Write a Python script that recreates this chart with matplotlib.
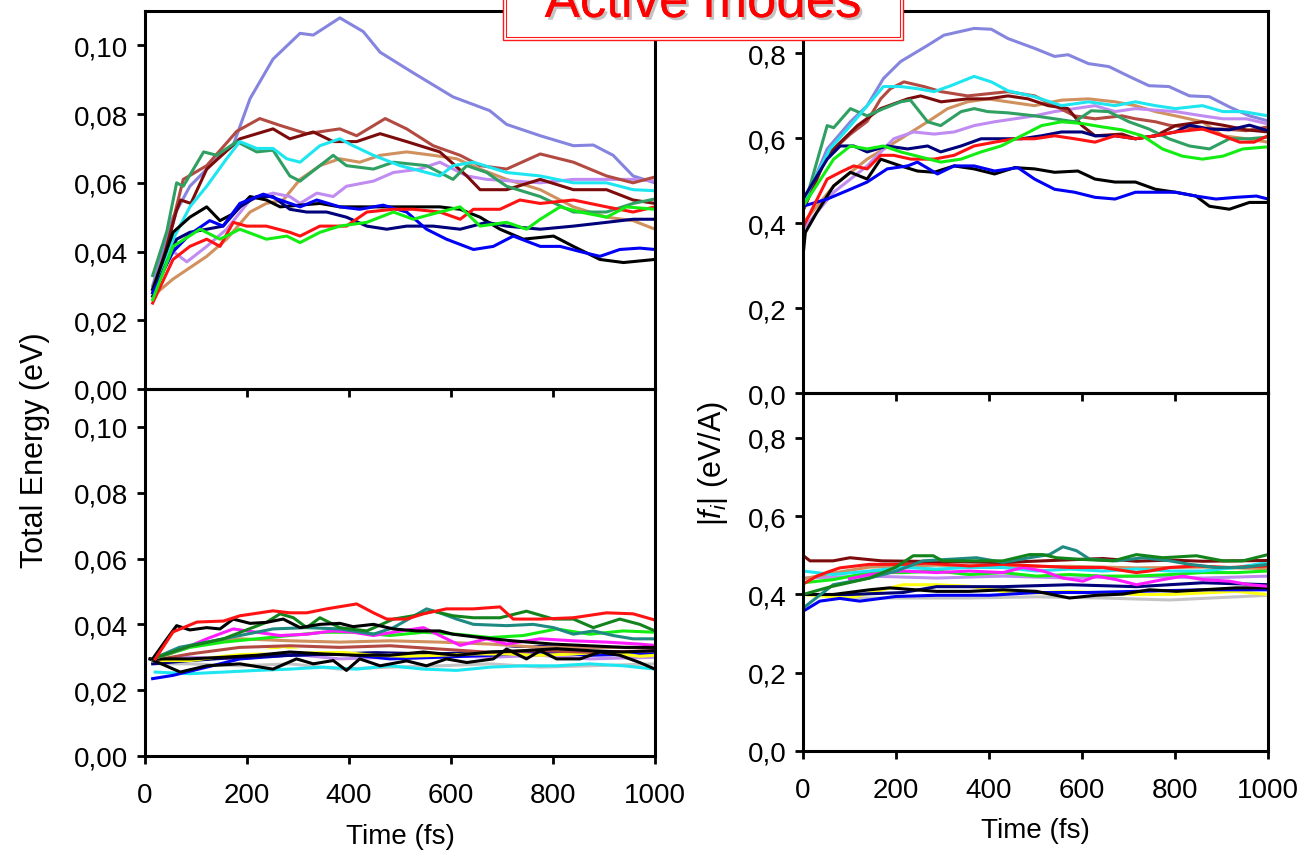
import matplotlib
matplotlib.use("Agg")
import matplotlib.pyplot as plt
import matplotlib.patheffects as pe
from matplotlib.patches import Rectangle
from matplotlib.ticker import FuncFormatter

plt.rcParams['font.family'] = ['Liberation Sans', 'DejaVu Sans']
plt.rcParams['mathtext.fontset'] = 'custom'
plt.rcParams['mathtext.rm'] = 'Liberation Sans'
plt.rcParams['mathtext.it'] = 'Liberation Sans:italic'

# (time fs, value)
# --- top left: total energy, active modes
tl_slateblue = [(15, .030), (55, .050), (88, .059), (141, .067), (173, .071), (206, .0845), (251, .096), (304, .1035), (330, .103), (356, .1055), (382, .108), (428, .104), (461, .098), (526, .092), (604, .085), (676, .081), (709, .077), (775, .0737), (840, .0708), (879, .071), (918, .068), (957, .062), (1000, .060)]
tl_brown = [(15, .029), (40, .040), (75, .061), (121, .065), (180, .075), (225, .0787), (265, .0767), (317, .0743), (382, .0757), (415, .0737), (471, .0787), (513, .0757), (565, .0708), (618, .068), (657, .065), (709, .064), (775, .0684), (840, .066), (905, .062), (957, .060), (1000, .0617)]
tl_maroon = [(15, .028), (40, .040), (62, .052), (70, .055), (90, .054), (121, .064), (186, .0728), (251, .0757), (284, .0728), (330, .0748), (369, .072), (415, .072), (461, .0743), (513, .072), (578, .069), (631, .062), (657, .058), (709, .058), (775, .061), (840, .058), (905, .058), (957, .055), (1000, .054)]
tl_seagreen = [(15, .033), (43, .046), (62, .060), (75, .059), (115, .069), (141, .068), (180, .072), (219, .069), (251, .0695), (284, .062), (304, .0605), (343, .065), (369, .068), (395, .065), (448, .064), (487, .066), (552, .065), (604, .061), (631, .065), (670, .063), (709, .059), (775, .056), (840, .0515), (905, .0515), (957, .054), (1000, .0553)]
tl_cyan = [(15, .029), (55, .0436), (88, .053), (121, .059), (160, .067), (186, .072), (219, .070), (251, .070), (278, .067), (304, .066), (343, .0708), (382, .0728), (408, .0708), (448, .068), (500, .065), (552, .063), (578, .062), (604, .065), (644, .066), (709, .063), (775, .062), (840, .060), (905, .060), (957, .058), (1000, .0577)]
tl_tan = [(15, .027), (55, .032), (121, .0386), (160, .0436), (206, .0515), (238, .054), (271, .055), (304, .061), (343, .065), (382, .067), (421, .066), (461, .068), (513, .069), (565, .068), (611, .067), (657, .064), (709, .061), (775, .058), (840, .053), (905, .050), (957, .049), (1000, .0465)]
tl_lavender = [(15, .029), (55, .040), (82, .037), (121, .0415), (160, .0465), (206, .055), (251, .057), (284, .056), (304, .054), (337, .057), (369, .056), (395, .059), (448, .0605), (487, .063), (539, .064), (578, .066), (631, .062), (670, .061), (775, .060), (840, .061), (957, .061), (1000, .0605)]
tl_black = [(15, .029), (55, .0456), (88, .050), (121, .053), (147, .049), (173, .051), (206, .056), (238, .055), (265, .053), (343, .054), (382, .053), (448, .053), (513, .053), (578, .053), (618, .0523), (657, .050), (696, .0465), (742, .0436), (801, .0445), (840, .0415), (892, .0377), (938, .0368), (1000, .0377)]
tl_navy = [(15, .027), (62, .0436), (88, .0456), (121, .0465), (153, .0474), (186, .053), (219, .056), (251, .056), (284, .0523), (317, .0515), (356, .0515), (395, .050), (435, .0474), (474, .0465), (513, .0474), (565, .0474), (618, .0465), (670, .0485), (709, .0474), (775, .0465), (840, .0474), (905, .0485), (957, .0494), (1000, .0494)]
tl_blue = [(15, .028), (55, .040), (88, .045), (127, .049), (153, .0474), (186, .054), (232, .0567), (265, .055), (304, .053), (337, .055), (382, .053), (421, .0523), (467, .0535), (513, .0515), (552, .0465), (591, .0436), (644, .0406), (683, .0415), (722, .0445), (775, .0415), (814, .0415), (853, .040), (892, .0386), (931, .0406), (970, .041), (1000, .0406)]
tl_red = [(15, .025), (55, .0377), (88, .0415), (121, .0436), (147, .0415), (173, .0485), (199, .0474), (238, .0474), (284, .0456), (304, .0445), (343, .0474), (395, .0474), (435, .0515), (487, .0523), (526, .0523), (578, .0515), (618, .0494), (644, .0523), (696, .0523), (735, .055), (775, .054), (840, .055), (905, .053), (957, .0515), (1000, .053)]
tl_lime = [(15, .026), (55, .0415), (108, .0465), (147, .0436), (186, .0465), (238, .0436), (278, .0445), (304, .0426), (343, .0456), (382, .0474), (435, .0485), (487, .0515), (526, .0494), (578, .0515), (618, .053), (657, .0474), (709, .0485), (748, .0465), (775, .0494), (814, .053), (853, .0515), (905, .050), (944, .053), (1000, .0523)]

# --- top right: |f_i|, active modes
tr_slateblue = [(0, .44), (52, .575), (102, .639), (138, .677), (173, .741), (210, .781), (268, .819), (303, .843), (368, .859), (405, .857), (441, .835), (498, .812), (541, .793), (570, .797), (614, .776), (658, .769), (701, .746), (744, .724), (787, .722), (831, .700), (874, .698), (917, .674), (960, .653), (1000, .641)]
tr_cyan = [(0, .45), (58, .575), (102, .630), (173, .722), (210, .722), (246, .717), (282, .710), (318, .724), (368, .746), (405, .733), (441, .712), (498, .698), (556, .677), (614, .686), (671, .677), (715, .686), (758, .677), (801, .670), (859, .677), (903, .663), (946, .663), (1000, .653)]
tr_brown = [(0, .43), (52, .56), (102, .61), (138, .64), (167, .693), (188, .717), (217, .733), (260, .722), (297, .710), (354, .700), (441, .710), (498, .700), (541, .677), (584, .653), (628, .646), (686, .653), (715, .646), (758, .639), (787, .631), (859, .622), (903, .622), (953, .618), (1000, .627)]
tr_maroon = [(0, .43), (52, .56), (117, .630), (167, .670), (225, .693), (253, .700), (297, .686), (354, .693), (397, .693), (441, .700), (484, .693), (527, .677), (570, .670), (600, .630), (628, .606), (686, .610), (715, .599), (758, .606), (801, .630), (859, .639), (903, .631), (953, .620), (1000, .615)]
tr_seagreen = [(0, .43), (52, .630), (66, .625), (102, .670), (138, .653), (173, .670), (210, .686), (231, .690), (268, .639), (296, .630), (340, .663), (368, .670), (397, .663), (441, .660), (498, .653), (541, .646), (584, .639), (620, .665), (657, .663), (701, .639), (744, .622), (787, .599), (831, .582), (874, .575), (917, .599), (960, .599), (1000, .603)]
tr_tan = [(0, .40), (66, .488), (138, .551), (210, .599), (268, .639), (311, .670), (354, .686), (397, .693), (441, .686), (498, .677), (556, .690), (614, .693), (671, .686), (715, .677), (758, .663), (801, .653), (859, .639), (903, .606), (953, .599), (1000, .591)]
tr_lavender = [(0, .386), (66, .473), (138, .535), (195, .599), (238, .615), (282, .610), (325, .615), (368, .630), (412, .639), (455, .646), (498, .653), (541, .663), (584, .670), (628, .677), (671, .663), (715, .670), (801, .663), (859, .653), (903, .646), (953, .646), (1000, .634)]
tr_navy = [(0, .457), (52, .551), (80, .582), (109, .582), (138, .568), (181, .582), (225, .575), (268, .582), (296, .568), (340, .582), (383, .599), (470, .599), (513, .606), (556, .615), (600, .615), (628, .606), (671, .606), (715, .599), (758, .606), (801, .615), (831, .631), (874, .622), (917, .620), (960, .631), (1000, .618)]
tr_lime = [(0, .44), (66, .551), (102, .582), (138, .575), (173, .582), (210, .568), (246, .558), (296, .544), (340, .551), (383, .568), (426, .582), (470, .606), (513, .630), (556, .639), (600, .635), (643, .627), (686, .620), (730, .606), (773, .575), (816, .558), (859, .551), (903, .558), (946, .575), (1000, .580)]
tr_red = [(0, .39), (52, .504), (80, .520), (109, .535), (138, .528), (167, .560), (195, .560), (232, .551), (282, .551), (325, .560), (368, .582), (412, .591), (455, .599), (498, .599), (541, .606), (584, .599), (628, .591), (671, .606), (715, .599), (758, .606), (801, .615), (859, .622), (903, .606), (939, .591), (970, .591), (1000, .606)]
tr_black = [(0, .322), (5, .378), (30, .426), (66, .488), (102, .520), (138, .504), (167, .551), (210, .535), (246, .523), (282, .520), (325, .535), (368, .528), (412, .516), (455, .531), (498, .528), (541, .520), (591, .523), (628, .504), (671, .497), (715, .497), (758, .480), (801, .473), (845, .464), (874, .440), (917, .433), (960, .449), (1000, .449)]
tr_blue = [(0, .44), (52, .457), (102, .480), (138, .497), (181, .528), (225, .535), (246, .544), (289, .516), (325, .535), (368, .535), (412, .523), (462, .531), (498, .504), (541, .480), (584, .473), (628, .461), (671, .457), (715, .473), (801, .473), (845, .464), (888, .457), (931, .461), (975, .464), (1000, .457)]

# --- bottom left: total energy, other modes
bl_grey = [(20, .028), (88, .028), (186, .0274), (284, .028), (382, .0264), (480, .027), (578, .0274), (677, .028), (775, .027), (872, .0274), (1000, .028)]
bl_cyan = [(20, .0255), (88, .025), (154, .0255), (219, .026), (284, .0264), (350, .027), (415, .0264), (480, .0274), (546, .0264), (611, .026), (677, .027), (742, .0274), (807, .0274), (872, .028), (938, .0274), (1000, .0264)]
bl_lavender = [(15, .029), (88, .030), (186, .0295), (284, .031), (382, .0295), (480, .030), (578, .0306), (677, .030), (775, .0306), (872, .0295), (1000, .030)]
bl_blue = [(15, .0235), (55, .0245), (121, .027), (186, .0295), (284, .0306), (382, .0311), (480, .0295), (578, .030), (677, .0306), (775, .0316), (872, .0306), (1000, .0311)]
bl_navy = [(15, .028), (88, .029), (186, .030), (284, .0306), (382, .031), (480, .0316), (578, .031), (677, .032), (775, .0333), (872, .0326), (1000, .033)]
bl_yellow = [(15, .029), (88, .029), (154, .0303), (219, .0313), (271, .0333), (317, .0316), (382, .0316), (448, .0306), (513, .0303), (578, .0306), (644, .031), (709, .031), (775, .0306), (840, .031), (905, .0316), (970, .0303), (1000, .0306)]
bl_white = [(15, .031), (120, .0315), (250, .032), (400, .0325), (550, .032), (700, .0325), (850, .032), (1000, .0325)]
bl_brown = [(15, .029), (88, .031), (186, .033), (284, .0335), (382, .033), (480, .0335), (578, .0325), (677, .0315), (775, .032), (872, .0315), (1000, .032)]
bl_tan = [(15, .029), (88, .0334), (186, .0356), (284, .035), (382, .0346), (480, .035), (578, .0346), (677, .034), (775, .033), (872, .033), (1000, .033)]
bl_black2 = [(10, .0295), (88, .0295), (154, .030), (219, .0306), (284, .0316), (350, .031), (415, .0306), (480, .0306), (546, .0316), (611, .0306), (677, .0316), (742, .032), (807, .0326), (872, .032), (938, .0316), (1000, .032)]
bl_black3 = [(10, .0295), (69, .0255), (121, .0274), (186, .028), (251, .0264), (297, .0295), (330, .028), (369, .029), (395, .026), (421, .0295), (461, .0274), (513, .0289), (552, .0274), (591, .0295), (631, .0284), (683, .0295), (709, .0325), (748, .0295), (775, .032), (807, .0295), (853, .0295), (892, .0316), (931, .0306), (970, .0284), (1000, .0264)]
bl_lime = [(15, .0295), (88, .033), (154, .0346), (219, .0356), (284, .0366), (350, .0376), (415, .0376), (480, .0366), (546, .0376), (611, .037), (677, .036), (742, .0366), (807, .0386), (872, .037), (938, .038), (1000, .0376)]
bl_magenta = [(15, .0295), (88, .0334), (121, .0356), (173, .0386), (219, .0376), (265, .0366), (317, .037), (369, .038), (408, .0376), (448, .0366), (487, .0376), (546, .039), (578, .0366), (618, .0336), (670, .0356), (709, .034), (775, .0356), (840, .035), (905, .0346), (970, .034), (1000, .0336)]
bl_teal = [(15, .0295), (67, .033), (121, .0346), (186, .0366), (251, .0386), (317, .039), (382, .0386), (448, .037), (487, .039), (552, .0447), (578, .0435), (611, .0416), (644, .040), (709, .0396), (761, .040), (801, .039), (840, .037), (879, .038), (918, .0366), (957, .0356), (1000, .0356)]
bl_green = [(15, .0295), (88, .0334), (154, .0356), (199, .0383), (238, .0406), (265, .0432), (291, .042), (317, .039), (343, .042), (382, .039), (435, .038), (487, .0416), (526, .0426), (565, .044), (604, .0426), (644, .042), (696, .042), (748, .044), (801, .0416), (840, .0416), (879, .039), (931, .0416), (970, .040), (1000, .038)]
bl_black1 = [(15, .0295), (43, .0356), (62, .0396), (88, .0383), (121, .039), (147, .0386), (173, .0416), (206, .0403), (238, .0406), (271, .0416), (304, .039), (343, .040), (382, .0403), (408, .0393), (448, .040), (487, .0386), (533, .038), (578, .038), (604, .037), (657, .036), (720, .035), (800, .034), (870, .0335), (940, .033), (1000, .033)]
bl_red = [(20, .0295), (55, .0377), (102, .0407), (154, .041), (186, .0426), (251, .0441), (284, .0435), (317, .0435), (356, .0447), (415, .0462), (448, .0435), (474, .0416), (513, .0416), (546, .0432), (591, .0447), (644, .0447), (696, .0453), (722, .0416), (775, .0416), (840, .042), (905, .0435), (957, .0432), (1000, .0413)]

# --- bottom right: |f_i|, other modes
br_grey = [(65, .391), (215, .391), (358, .391), (502, .394), (645, .391), (789, .386), (932, .394), (1000, .398)]
br_yellow = [(0, .40), (100, .391), (215, .425), (287, .425), (358, .421), (430, .408), (502, .404), (573, .408), (645, .404), (717, .400), (789, .400), (860, .404), (932, .408), (1000, .400)]
br_blue = [(0, .357), (36, .383), (79, .39), (122, .383), (200, .395), (287, .398), (401, .398), (502, .405), (609, .405), (717, .408), (860, .412), (1000, .412)]
br_navy = [(0, .40), (100, .40), (215, .405), (287, .42), (430, .42), (573, .425), (717, .42), (860, .43), (1000, .425)]
br_black = [(0, .40), (65, .40), (143, .412), (186, .417), (287, .408), (358, .408), (430, .412), (502, .408), (573, .391), (631, .398), (688, .401), (745, .412), (803, .408), (860, .412), (932, .417), (1000, .417)]
br_white = [(0, .445), (143, .44), (287, .445), (430, .437), (573, .442), (717, .436), (860, .44), (1000, .438)]
br_lavender = [(0, .442), (143, .447), (287, .442), (430, .447), (573, .442), (717, .447), (860, .442), (1000, .447)]
br_tan = [(0, .44), (65, .455), (143, .47), (287, .475), (430, .47), (573, .472), (717, .468), (860, .47), (1000, .466)]
br_lime = [(0, .43), (65, .438), (143, .456), (215, .456), (287, .460), (358, .451), (430, .456), (502, .447), (573, .451), (645, .447), (717, .447), (789, .451), (860, .456), (932, .456), (1000, .460)]
br_cyan = [(0, .46), (65, .451), (143, .460), (215, .469), (287, .465), (358, .469), (430, .469), (502, .460), (573, .465), (645, .460), (717, .465), (789, .460), (860, .460), (932, .469), (1000, .482)]
br_magenta = [(100, .44), (143, .451), (215, .460), (287, .456), (358, .460), (430, .456), (473, .469), (516, .460), (559, .442), (602, .434), (631, .447), (674, .438), (717, .425), (774, .438), (817, .447), (860, .438), (917, .434), (960, .425), (1000, .421)]
br_red = [(5, .43), (30, .447), (50, .456), (79, .468), (143, .477), (215, .477), (265, .480), (358, .473), (430, .477), (502, .473), (573, .469), (645, .469), (717, .456), (745, .46), (789, .469), (846, .473), (917, .469), (1000, .473)]
br_maroon = [(0, .50), (15, .486), (65, .486), (101, .494), (169, .486), (300, .484), (430, .482), (645, .492), (717, .485), (789, .488), (860, .485), (1000, .487)]
br_teal = [(0, .365), (65, .425), (143, .442), (201, .460), (258, .486), (315, .490), (373, .494), (430, .482), (487, .494), (530, .502), (559, .522), (588, .512), (617, .490), (674, .486), (731, .494), (789, .486), (832, .477), (889, .469), (946, .469), (1000, .477)]
br_green = [(0, .40), (60, .42), (143, .442), (200, .47), (237, .499), (280, .499), (300, .486), (358, .486), (430, .486), (487, .502), (516, .502), (545, .494), (595, .490), (667, .486), (717, .502), (774, .494), (846, .499), (903, .486), (946, .486), (1000, .502)]

time_ticks = [0, 200, 400, 600, 800, 1000]
energy_ticks = [0.00, 0.02, 0.04, 0.06, 0.08, 0.10]
force_ticks = [0.0, 0.2, 0.4, 0.6, 0.8]

c = dict(slateblue='#8585e0', brown='#b24a42', maroon='#7c0c0c', seagreen='#2fa062',
         cyan='#1ee6f0', tan='#d0915e', lavender='#c08cf2', black='#000000',
         navy='#00007a', blue='#0000f5', red='#ff1212', lime='#12ee12',
         grey='#c4c4c4', yellow='#ffff10', white='#ffffff', magenta='#ff1cff',
         teal='#1e8a82', green='#13841c')

tl_lines = [(tl_slateblue, 'slateblue'), (tl_tan, 'tan'), (tl_lavender, 'lavender'), (tl_brown, 'brown'),
            (tl_maroon, 'maroon'), (tl_seagreen, 'seagreen'), (tl_cyan, 'cyan'), (tl_black, 'black'),
            (tl_navy, 'navy'), (tl_blue, 'blue'), (tl_red, 'red'), (tl_lime, 'lime')]
tr_lines = [(tr_slateblue, 'slateblue'), (tr_tan, 'tan'), (tr_lavender, 'lavender'), (tr_brown, 'brown'),
            (tr_maroon, 'maroon'), (tr_seagreen, 'seagreen'), (tr_cyan, 'cyan'), (tr_black, 'black'),
            (tr_navy, 'navy'), (tr_blue, 'blue'), (tr_red, 'red'), (tr_lime, 'lime')]
bl_lines = [(bl_grey, 'grey'), (bl_cyan, 'cyan'), (bl_lavender, 'lavender'), (bl_blue, 'blue'),
            (bl_navy, 'navy'), (bl_yellow, 'yellow'), (bl_white, 'white'), (bl_brown, 'brown'),
            (bl_tan, 'tan'), (bl_black2, 'black'), (bl_black3, 'black'), (bl_lime, 'lime'),
            (bl_magenta, 'magenta'), (bl_teal, 'teal'), (bl_green, 'green'), (bl_black1, 'black'),
            (bl_red, 'red')]
br_lines = [(br_grey, 'grey'), (br_yellow, 'yellow'), (br_blue, 'blue'), (br_navy, 'navy'),
            (br_black, 'black'), (br_white, 'white'), (br_lavender, 'lavender'), (br_tan, 'tan'),
            (br_lime, 'lime'), (br_cyan, 'cyan'), (br_magenta, 'magenta'), (br_red, 'red'),
            (br_maroon, 'maroon'), (br_teal, 'teal'), (br_green, 'green')]

W, H = 1299, 853
fig = plt.figure(figsize=(W / 100, H / 100), dpi=100)


def px_axes(left, top, right, bottom):
    return fig.add_axes([left / W, 1 - bottom / H, (right - left) / W, (bottom - top) / H])


def setup(ax, ylim, ticks, fmt, labels_x):
    ax.set_xlim(0, 1000)
    ax.set_ylim(0, ylim)
    ax.set_xticks(time_ticks)
    ax.set_yticks(ticks)
    ax.yaxis.set_major_formatter(FuncFormatter(lambda v, p: fmt.format(v).replace('.', ',')))
    if not labels_x:
        ax.set_xticklabels([])
    for s in ax.spines.values():
        s.set_linewidth(2.2)
    ax.tick_params(direction='out', length=6, width=2, labelsize=20)
    ax.tick_params(axis='y', pad=6)
    ax.tick_params(axis='x', pad=13)
    ax.patch.set_alpha(0)


def draw(ax, lines):
    for pts, col in lines:
        t, v = zip(*pts)
        ax.plot(t, v, color=c[col], lw=2.2, solid_joinstyle='round')


ax_tl = px_axes(145, 12, 655, 390)
ax_bl = px_axes(145, 390, 655, 757)
ax_tr = px_axes(803, 12, 1268, 394)
ax_br = px_axes(803, 394, 1268, 752)

draw(ax_tl, tl_lines)
draw(ax_tr, tr_lines)
draw(ax_bl, bl_lines)
draw(ax_br, br_lines)

setup(ax_tl, 0.110, energy_ticks, '{:.2f}', False)
setup(ax_bl, 0.1115, energy_ticks, '{:.2f}', True)
setup(ax_tr, 0.9, force_ticks, '{:.1f}', False)
setup(ax_br, 0.915, force_ticks, '{:.1f}', True)

fig.text(35 / W, 1 - 450 / H, 'Total Energy (eV)', rotation=90, ha='center', va='center', fontsize=22)
fig.text(713 / W, 1 - 463 / H, r'$|f_i|$ (eV/A)', rotation=90, ha='center', va='center', fontsize=22)
fig.text(400 / W, 1 - 837 / H, 'Time (fs)', ha='center', va='center', fontsize=20)
fig.text(1035 / W, 1 - 831 / H, 'Time (fs)', ha='center', va='center', fontsize=20)

# title box, partly cut off at the top edge
fig.add_artist(Rectangle((503 / W, 1 - 41 / H), 400 / W, 60 / H, transform=fig.transFigure,
                         facecolor='white', edgecolor='#ff1a1a', lw=1.0, zorder=10))
fig.add_artist(Rectangle((506 / W, 1 - 38 / H), 394 / W, 60 / H, transform=fig.transFigure,
                         facecolor='none', edgecolor='#ff1a1a', lw=0.8, zorder=11))
title = fig.text(703 / W, 1 - 18 / H, 'Active modes', ha='center', va='baseline',
                 fontsize=38, color='#ff0000', zorder=12)
title.set_path_effects([pe.withSimplePatchShadow(offset=(2, -2), shadow_rgbFace='#888888', alpha=0.5), pe.Normal()])

fig.savefig('out.png', dpi=100)
